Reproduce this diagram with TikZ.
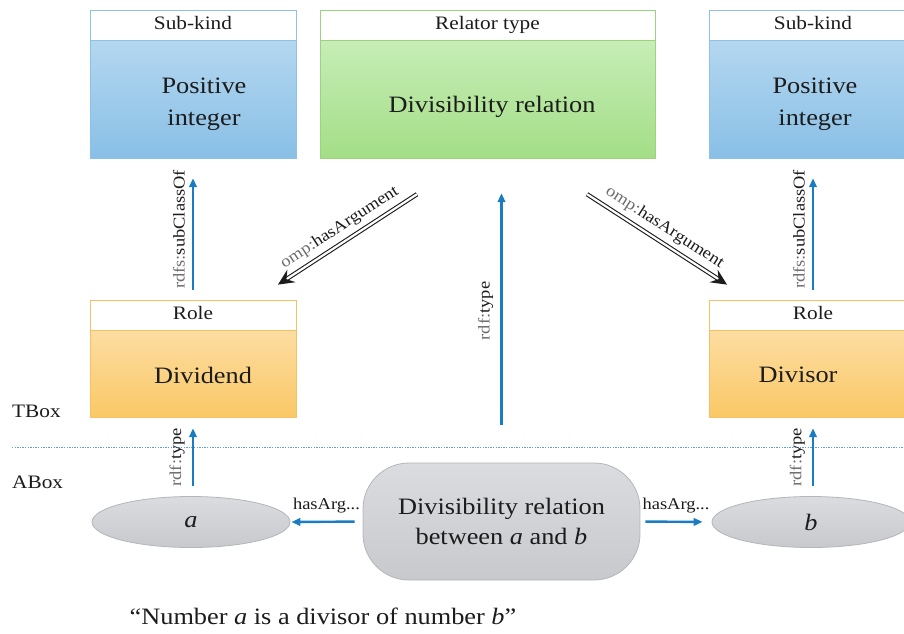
\documentclass[tikz,border=0pt]{standalone}
\usepackage{fontspec}
\setmainfont{Liberation Serif}[FakeStretch=1.12]
\usetikzlibrary{arrows.meta,shapes.geometric,calc}

\definecolor{ink}{HTML}{1C1C1C}
\definecolor{pfx}{HTML}{6E6E6E}
\definecolor{arrblue}{HTML}{1A7DC4}
\definecolor{kindtop}{HTML}{B4D7F0}
\definecolor{kindbot}{HTML}{88BFE6}
\definecolor{kindline}{HTML}{8CC2E8}
\definecolor{reltop}{HTML}{C6EDB6}
\definecolor{relbot}{HTML}{A3DE86}
\definecolor{relline}{HTML}{9CD47C}
\definecolor{roletop}{HTML}{FDDDA2}
\definecolor{rolebot}{HTML}{FAC865}
\definecolor{roleline}{HTML}{F6C063}
\definecolor{indtop}{HTML}{DADCDF}
\definecolor{indbot}{HTML}{C7C9CD}
\definecolor{indline}{HTML}{B3B6BA}
\definecolor{sepline}{HTML}{5E9FD8}

\tikzset{
  hdr/.style={draw, line width=0.8pt, fill=white, minimum height=30pt, inner sep=0pt,
    text height=13pt, text depth=4pt, font=\fontsize{19}{22}\selectfont, text=ink},
  bodybox/.style={draw, line width=0.8pt, inner sep=0pt, anchor=north},
  kindbody/.style={bodybox, draw=kindline, top color=kindtop, bottom color=kindbot, minimum height=118pt},
  relbody/.style={bodybox, draw=relline, top color=reltop, bottom color=relbot, minimum height=118pt},
  rolebody/.style={bodybox, draw=roleline, top color=roletop, bottom color=rolebot, minimum height=87pt},
  bigtxt/.style={font=\fontsize{23.5}{32}\selectfont, text=ink, inner sep=0pt, align=center},
  indiv/.style={ellipse, draw=indline, line width=0.8pt, top color=indtop, bottom color=indbot,
    minimum width=198pt, minimum height=51pt, inner sep=0pt, font=\fontsize{23.5}{28}\selectfont\itshape, text=ink},
  relinst/.style={rectangle, rounded corners=46pt, draw=indline, line width=0.8pt,
    top color=indtop, bottom color=indbot, minimum width=277pt, minimum height=117pt,
    inner sep=0pt, align=center, font=\fontsize{23.5}{30}\selectfont, text=ink},
  bluearr/.style={draw=arrblue, line width=2.4pt, -{Triangle[length=9pt,width=7.5pt]}},
  dblarr/.style={draw=ink, line width=1.1pt, double=white, double distance=2.2pt,
    -{Stealth[length=16pt,width=15pt,inset=6pt]}},
  lbl/.style={font=\fontsize{16.5}{19}\selectfont, text=ink, inner sep=1pt},
  boxlbl/.style={font=\fontsize{19}{22}\selectfont, text=ink, inner sep=0pt, anchor=base west}
}

\begin{document}
\begin{tikzpicture}[x=1pt,y=-1pt]
\clip (0,0) rectangle (904,633);
\fill[white] (0,0) rectangle (904,633);

% TBox classes: sub-kinds, relator type and roles
\node[hdr, draw=kindline, minimum width=206pt] (skL) at (193,25) {Sub-kind};
\node[kindbody, minimum width=206pt] (piL) at (skL.south) {};
\node[bigtxt] (piLt) at (204,104) {Positive\\integer};

\node[hdr, draw=relline, minimum width=335pt] (rtH) at (487.5,25) {Relator type};
\node[relbody, minimum width=335pt] (drB) at (rtH.south) {};
\node[bigtxt] (drT) at (492,107) {Divisibility relation};

\node[hdr, draw=kindline, minimum width=208pt] (skR) at (813,25) {Sub-kind};
\node[kindbody, minimum width=208pt] (piR) at (skR.south) {};
\node[bigtxt] (piRt) at (815,104) {Positive\\integer};

\node[hdr, draw=roleline, minimum width=206pt] (rlL) at (193,315) {Role};
\node[rolebody, minimum width=206pt] (dvL) at (rlL.south) {};
\node[bigtxt] (dvLt) at (203,375) {Dividend};

\node[hdr, draw=roleline, minimum width=208pt] (rlR) at (813,315) {Role};
\node[rolebody, minimum width=208pt] (dvR) at (rlR.south) {};
\node[bigtxt] (dvRt) at (798,375) {Divisor};

% ABox individuals
\node[indiv] (ia) at (191,522) {a};
\node[indiv] (ib) at (811,522) {b};
\node[relinst] (dab) at (501.5,521.5) {Divisibility relation\\between \textit{a} and \textit{b}};

% TBox / ABox separator
\coordinate (sepW) at (12,447);
\coordinate (sepE) at (904,447);
\draw[sepline, line width=0.9pt, dash pattern=on 1.3pt off 1.3pt] (sepW) -- (sepE);
\node[boxlbl] (tbox) at (12,417) {TBox};
\node[boxlbl] (abox) at (12,488) {ABox};

% subclass links
\draw[bluearr, shorten <=10pt, shorten >=19pt] (rlL.north) -- (piL.south)
  node[lbl, midway, sloped, above=6pt] {{\color{pfx}rdfs:}subClassOf};
\draw[bluearr, shorten <=10pt, shorten >=19pt] (rlR.north) -- (piR.south)
  node[lbl, midway, sloped, above=6pt] {{\color{pfx}rdfs:}subClassOf};

% instance-of links
\draw[bluearr, shorten <=10pt, shorten >=10pt] (dvL.south |- ia.north) -- (dvL.south)
  node[lbl, midway, sloped, above=6pt] {{\color{pfx}rdf:}type};
\draw[bluearr, shorten <=10pt, shorten >=10pt] (dvR.south |- ib.north) -- (dvR.south)
  node[lbl, midway, sloped, above=6pt] {{\color{pfx}rdf:}type};
\draw[bluearr, shorten <=38pt, shorten >=34pt] (dab.north) -- (dab.north |- drB.south)
  node[lbl, midway, sloped, above=6pt] {{\color{pfx}rdf:}type};

% argument links between individuals
\draw[bluearr, shorten <=8pt, shorten >=1pt] (dab.west) -- (ia.east)
  node[lbl, midway, above=7pt] {hasArg...};
\draw[bluearr, shorten <=5pt, shorten >=9pt] (dab.east) -- (ib.west)
  node[lbl, midway, above=7pt] {hasArg...};

% argument links between classes
\draw[dblarr] ($(drB.south)+(-70.5,35)$) -- ($(rlL.north)+(85,-15)$)
  node[lbl, midway, sloped, above=5pt] {{\color{pfx}omp:}hasArgument};
\draw[dblarr] ($(drB.south)+(99.5,35)$) -- ($(rlR.north)+(-86,-15)$)
  node[lbl, midway, sloped, above=5pt] {{\color{pfx}omp:}hasArgument};

% statement
\node[bigtxt] (stmt) at (323,616) {“Number \textit{a} is a divisor of number \textit{b}”};
\end{tikzpicture}
\end{document}
